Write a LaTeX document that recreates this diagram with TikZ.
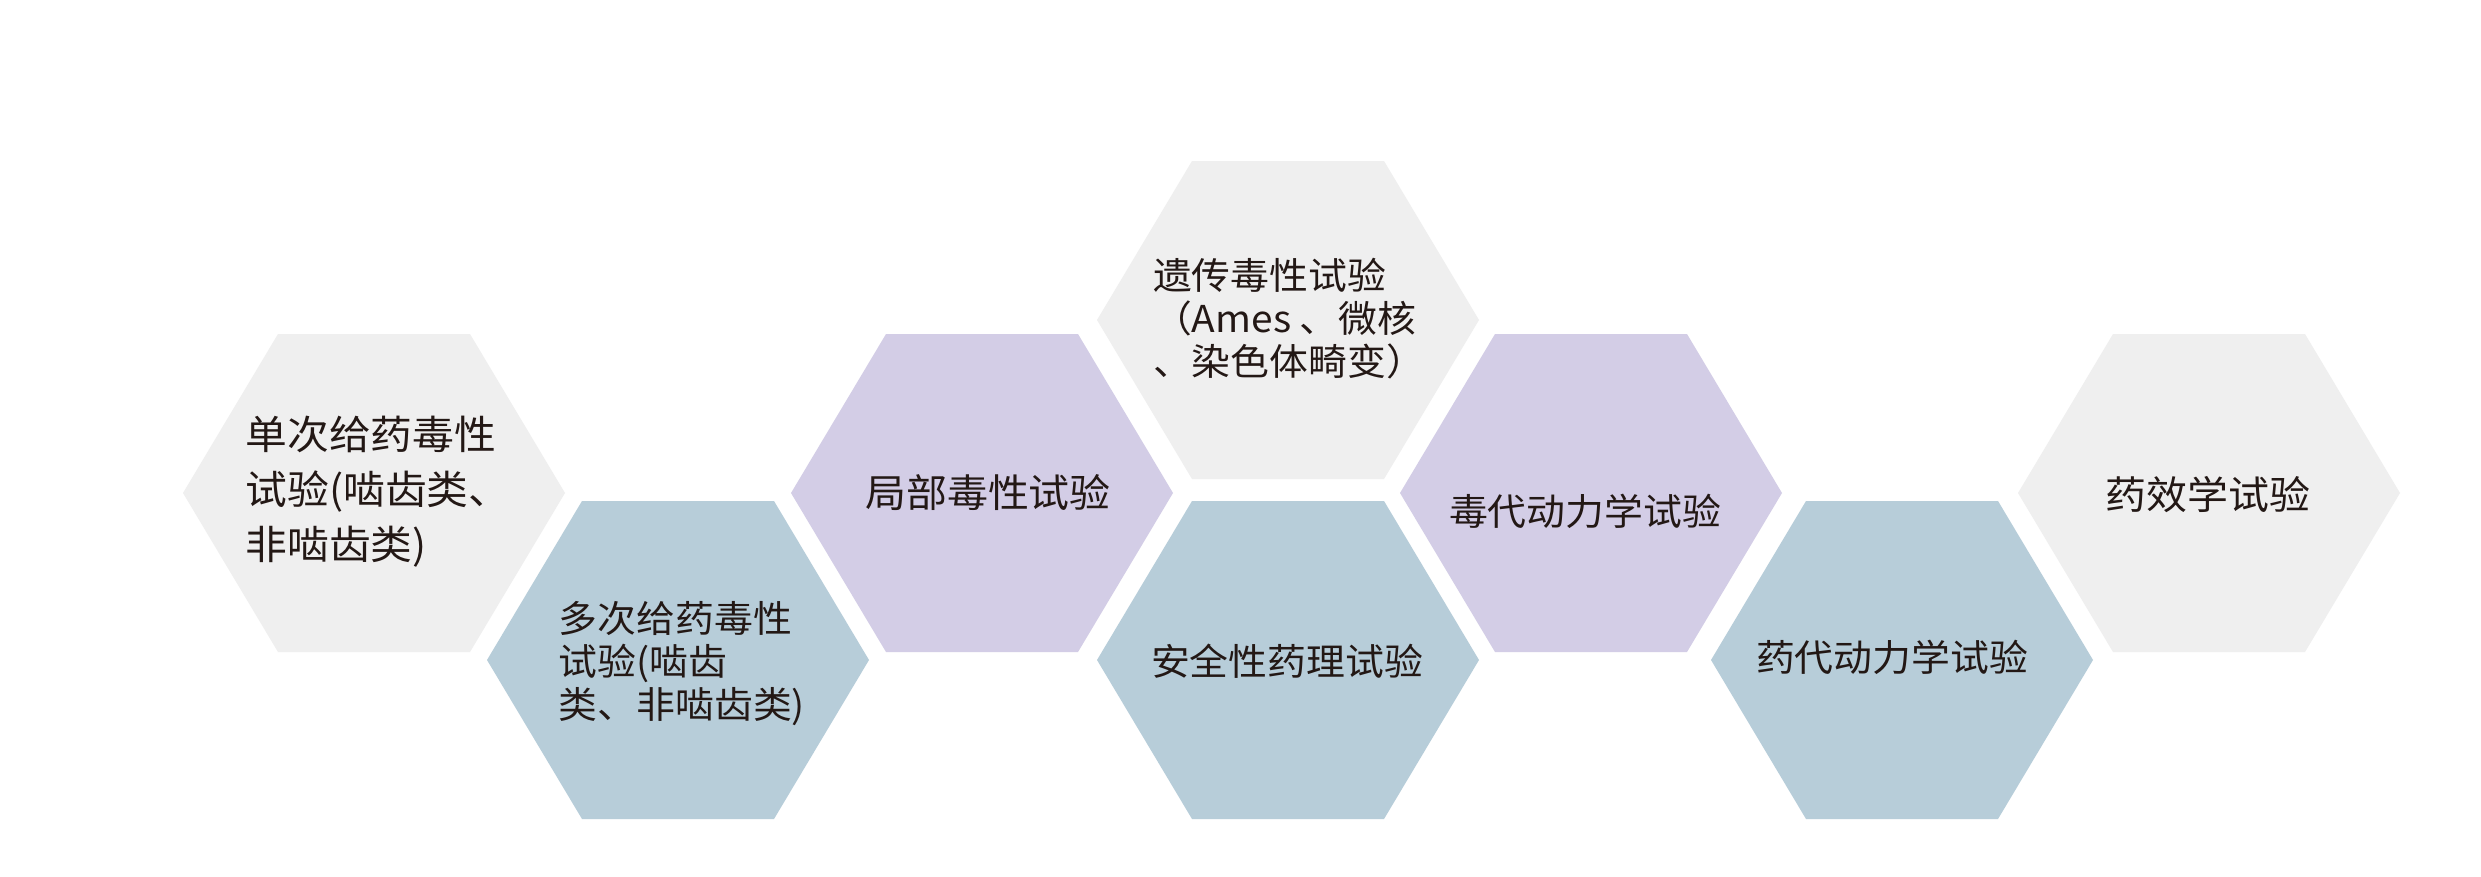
\documentclass[tikz,border=0pt]{standalone}
\usepackage{fontspec}
\newfontfamily\cjk{Noto Sans CJK SC}[FakeStretch=1.05]
\definecolor{hexgray}{RGB}{239,239,239}
\definecolor{hexblue}{RGB}{183,205,217}
\definecolor{hexpurple}{RGB}{211,205,230}
\definecolor{txtcol}{RGB}{35,24,21}
\tikzset{
  hexcell/.pic={\fill (-191,0) -- (-96,-159) -- (96,-159) -- (191,0) -- (96,159) -- (-96,159) -- cycle;},
  lblbig/.style={text=txtcol, align=left, inner sep=0pt, font=\cjk\fontsize{39}{55}\selectfont},
  lblfirst/.style={text=txtcol, align=left, inner sep=0pt, font=\cjk\fontsize{39.8}{55}\selectfont},
  lblsmall/.style={text=txtcol, align=left, inner sep=0pt, font=\cjk\fontsize{37}{43}\selectfont},
}
\begin{document}
\begin{tikzpicture}[x=1pt,y=-1pt]
\useasboundingbox (0,0) rectangle (2481,876);
\fill[white] (0,0) rectangle (2481,876);
% hexagons
\pic[fill=hexgray]   at (374,493)  {hexcell};
\pic[fill=hexblue]   at (678,660)  {hexcell};
\pic[fill=hexpurple] at (982,493)  {hexcell};
\pic[fill=hexgray]   at (1288,320) {hexcell};
\pic[fill=hexblue]   at (1288,660) {hexcell};
\pic[fill=hexpurple] at (1591,493) {hexcell};
\pic[fill=hexblue]   at (1902,660) {hexcell};
\pic[fill=hexgray]   at (2209,493) {hexcell};
% labels
\node[lblfirst] (h1) at (378,491.5)   {单次给药毒性\\试验(啮齿类、\\非啮齿类)};
\node[lblsmall] (h2) at (682,664)     {多次给药毒性\\试验(啮齿\\类、非啮齿类)};
\node[lblbig]   (h3) at (988,493)     {局部毒性试验};
\node[lblsmall] (h4) at (1289,319)    {遗传毒性试验\\（Ames 、微核\\、染色体畸变）};
\node[lblsmall] (h5) at (1287,661)    {安全性药理试验};
\node[lblsmall] (h6) at (1585,511)    {毒代动力学试验};
\node[lblsmall] (h7) at (1892,657)    {药代动力学试验};
\node[lblbig]   (h8) at (2208,495)    {药效学试验};
\end{tikzpicture}
\end{document}
